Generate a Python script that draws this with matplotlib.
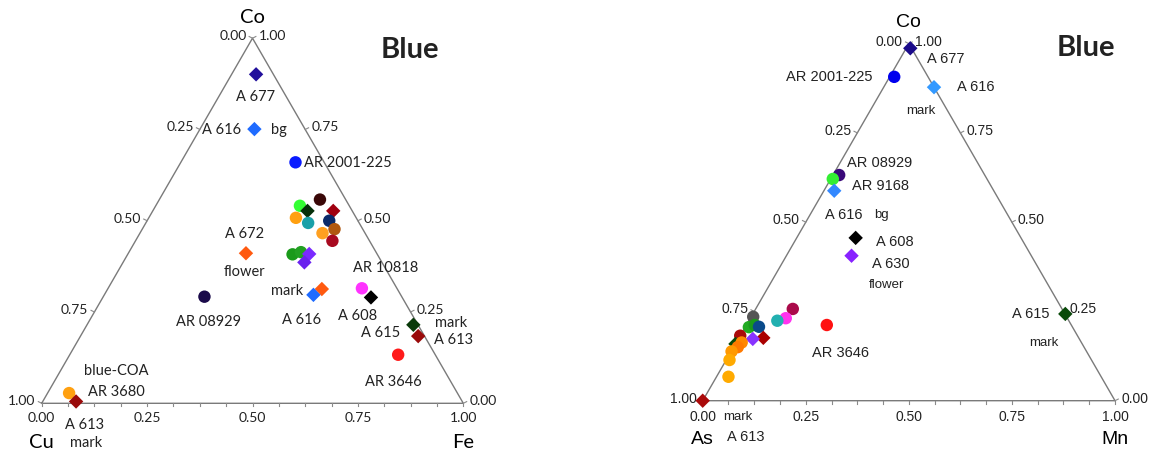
import matplotlib
matplotlib.use("Agg")
import matplotlib.pyplot as plt
import numpy as np

W, H = 1154, 452
SQ3 = np.sqrt(3) / 2

# ---------------- data: left diagram (Cu - Fe - Co) ----------------
left_co = [0.901, 0.751, 0.660, 0.558, 0.541, 0.527, 0.527, 0.508, 0.494, 0.500,
           0.477, 0.466, 0.445, 0.411, 0.408, 0.414, 0.409, 0.386, 0.292, 0.313,
           0.297, 0.315, 0.290, 0.215, 0.184, 0.133, 0.028, 0.005]
left_fe = [0.058, 0.129, 0.272, 0.381, 0.342, 0.367, 0.428, 0.349, 0.385, 0.432,
           0.456, 0.433, 0.467, 0.279, 0.391, 0.408, 0.430, 0.430, 0.240, 0.508,
           0.496, 0.602, 0.636, 0.774, 0.801, 0.779, 0.051, 0.079]
left_markers = ['D', 'D', 'o', 'o', 'o', 'D', 'D', 'o', 'o', 'o',
                'o', 'o', 'o', 'D', 'o', 'o', 'D', 'D', 'o', 'D',
                'D', 'o', 'D', 'D', 'D', 'o', 'o', 'D']
left_colors = ['#22109c', '#1f6bff', '#0a1cff', '#3a0808', '#33ff33', '#06300a', '#a00010',
               '#ffa010', '#1aa0a8', '#0a2a6a', '#b05810', '#ffa020', '#a80a20',
               '#ff5a10', '#1a9a1a', '#22a022', '#7a2aff', '#6a22ee', '#1a0a4a',
               '#ff5a10', '#1f6bff', '#ff33ff', '#000000', '#0a3a0a', '#9a0a0a',
               '#ff1a1a', '#ffa010', '#9a0a0a']
left_ticks = [0.0, 0.25, 0.5, 0.75, 1.0]
left_tick_labels = ['0.00', '0.25', '0.50', '0.75', '1.00']

# ---------------- data: right diagram (As - Mn - Co) ----------------
right_co = [0.987, 0.907, 0.878, 0.632, 0.621, 0.588, 0.456, 0.406, 0.243, 0.212,
            0.257, 0.231, 0.224, 0.235, 0.206, 0.212, 0.207, 0.176, 0.173, 0.182,
            0.159, 0.163, 0.150, 0.138, 0.114, 0.067, 0.0]
right_mn = [0.010, 0.011, 0.122, 0.015, 0.005, 0.025, 0.143, 0.158, 0.758, 0.195,
            0.090, 0.086, 0.069, 0.005, 0.009, 0.020, 0.033, 0.059, 0.035, 0.0,
            0.0, 0.013, 0.010, 0.001, 0.008, 0.029, 0.0]
right_markers = ['D', 'o', 'D', 'o', 'o', 'D', 'D', 'D', 'D', 'o',
                 'o', 'o', 'o', 'o', 'o', 'o', 'o', 'D', 'D', 'o',
                 'D', 'o', 'o', 'o', 'o', 'o', 'D']
right_colors = ['#1a0a8a', '#0000ee', '#3399ff', '#3a0a7a', '#33ee33', '#3388ff', '#000000',
                '#8822ff', '#0a4a0a', '#ff1111', '#aa0a4a', '#ff33ee', '#22b0b0',
                '#555555', '#22aa22', '#1a9a1a', '#0a4a8a', '#aa0000', '#8833ff',
                '#aa0a0a', '#0a4a0a', '#ff8800', '#ff7a00', '#ff9900', '#ffaa00',
                '#ffaa00', '#aa0a0a']


def tern(co, fe):
    co = np.asarray(co, dtype=float)
    fe = np.asarray(fe, dtype=float)
    return fe + co / 2, co * SQ3


def draw_frame(ax, font, tsize, csize, corners):
    ax.plot([0, 1, 0.5, 0], [0, 0, SQ3, 0], color='#7a7a7a', lw=1.0, zorder=1)
    # small tick marks along the base
    for v in np.arange(0, 1.0001, 0.0625):
        x, y = tern(0, v)
        ax.plot([x, x], [y, y - 0.007], color='#8a8a8a', lw=0.8)
    for v, lab in zip(left_ticks, left_tick_labels):
        # side ticks at the labelled values only
        x, y = tern(v, 1 - v)
        ax.plot([x, x + 0.008], [y, y + 0.004], color='#8a8a8a', lw=0.8)
        x, y = tern(1 - v, 0)
        ax.plot([x, x - 0.008], [y, y + 0.004], color='#8a8a8a', lw=0.8)
        # bottom
        x, y = tern(0, v)
        ax.annotate(lab, (x, y), xytext=(0, -8), textcoords='offset pixels',
                    ha='center', va='top', fontsize=tsize, family=font, color='#222222')
        # right edge (Co)
        x, y = tern(v, 1 - v)
        ax.annotate(lab, (x, y), xytext=(6, 3), textcoords='offset pixels',
                    ha='left', va='center', fontsize=tsize, family=font, color='#222222')
        # left edge
        x, y = tern(1 - v, 0)
        ax.annotate(lab, (x, y), xytext=(-6, 3), textcoords='offset pixels',
                    ha='right', va='center', fontsize=tsize, family=font, color='#222222')
    top, bl, br = corners
    ax.annotate(top, (0.5, SQ3), xytext=(0, 22), textcoords='offset pixels',
                ha='center', va='center', fontsize=csize, family=font)
    ax.annotate(bl, (0, 0), xytext=(0, -38), textcoords='offset pixels',
                ha='center', va='center', fontsize=csize, family=font)
    ax.annotate(br, (1, 0), xytext=(0, -38), textcoords='offset pixels',
                ha='center', va='center', fontsize=csize, family=font)


def draw_points(ax, co, fe, markers, colors):
    x, y = tern(co, fe)
    for xi, yi, m, c in zip(x, y, markers, colors):
        size = 80 if m == 'o' else 54
        ax.scatter(xi, yi, s=size, marker=m, color=c, edgecolors='none', zorder=3)


def px(text, x, y, font, size, **kw):
    fig.text(x / W, 1 - y / H, text, ha='center', va='center', family=font,
             fontsize=size, color='#222222', **kw)


fig = plt.figure(figsize=(W / 100, H / 100), dpi=100)
fig.patch.set_facecolor('white')

# left panel: triangle origin at (41.7, 404.3) px, side 421.6 px
L1 = 421.6
ax1 = fig.add_axes([0, 0, 577 / W, 1])
ax1.set_xlim(-41.7 / L1, (577 - 41.7) / L1)
ax1.set_ylim(-(H - 404.3) / L1, 404.3 / L1)
ax1.axis('off')
draw_frame(ax1, 'Lato', 10, 14.5, ('Co', 'Cu', 'Fe'))
draw_points(ax1, left_co, left_fe, left_markers, left_colors)

# right panel: triangle origin at (702.7, 401.7) px, side 412.3 px
L2 = 412.3
ax2 = fig.add_axes([577 / W, 0, 577 / W, 1])
ax2.set_xlim((577 - 702.7) / L2, (1154 - 702.7) / L2)
ax2.set_ylim(-(H - 401.7) / L2, 401.7 / L2)
ax2.axis('off')
draw_frame(ax2, 'Liberation Sans', 10, 14, ('Co', 'As', 'Mn'))
draw_points(ax2, right_co, right_mn, right_markers, right_colors)

# sample labels, left
lf = 'Lato'
for t, x, y in [('A 677', 256, 97), ('A 616', 222, 130), ('bg', 279, 130),
                ('AR 2001-225', 348, 163), ('A 672', 245, 234), ('flower', 244, 272),
                ('AR 10818', 386, 268), ('mark', 287, 291), ('AR 08929', 209, 322),
                ('A 616', 302, 320), ('A 608', 358, 316), ('mark', 451, 323),
                ('A 615', 381, 333), ('A 613', 454, 340), ('AR 3646', 393, 382),
                ('blue-COA', 116, 371), ('AR 3680', 116, 392), ('A 613', 85, 425),
                ('mark', 86, 443)]:
    px(t, x, y, lf, 10.5)

# sample labels, right
rf = 'Liberation Sans'
for t, x, y in [('A 677', 946, 59), ('AR 2001-225', 829, 77), ('A 616', 976, 87),
                ('AR 08929', 880, 163), ('AR 9168', 880, 186), ('A 616', 844, 215),
                ('A 608', 895, 242), ('A 630', 891, 264), ('A 615', 1031, 314),
                ('AR 3646', 840, 353), ('A 613', 746, 437)]:
    px(t, x, y, rf, 10.5)
for t, x, y in [('mark', 921, 111), ('bg', 881, 215), ('flower', 887, 285),
                ('mark', 1044, 343), ('mark', 738, 417)]:
    px(t, x, y, rf, 9.5)

px('Blue', 410, 50, 'Lato', 21, fontweight='bold')
px('Blue', 1086, 48, 'Lato', 21, fontweight='bold')

fig.savefig('out.png', dpi=100, facecolor='white')
